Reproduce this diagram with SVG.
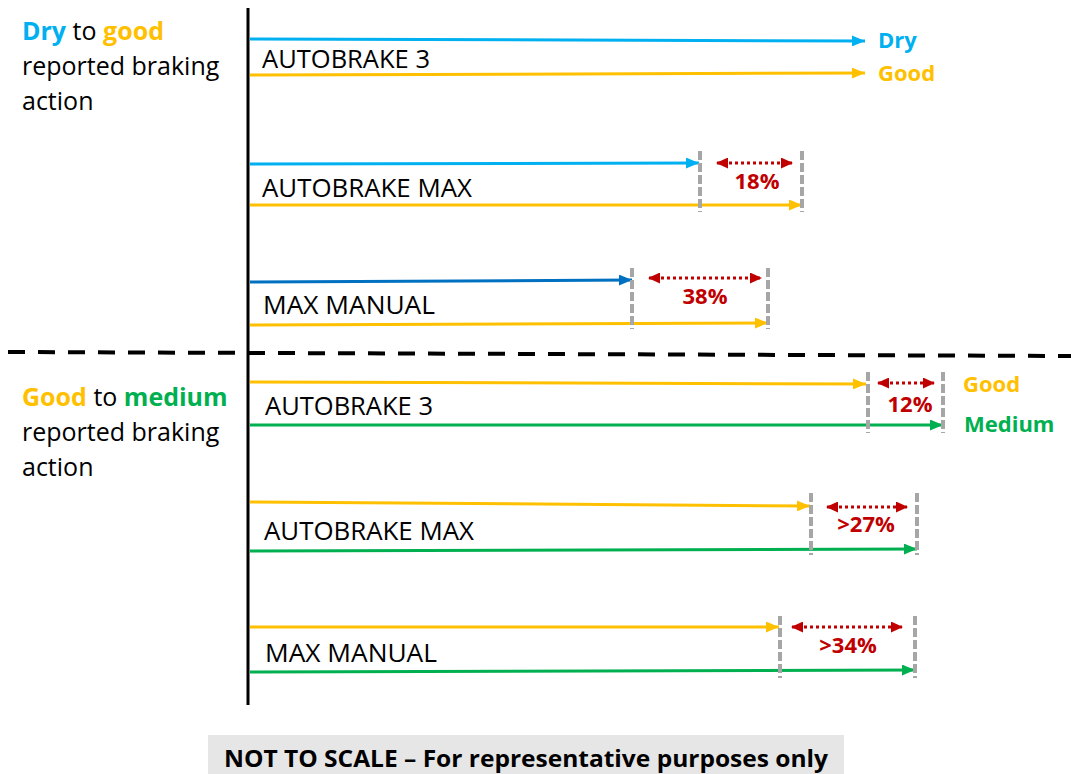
<svg xmlns="http://www.w3.org/2000/svg" width="1071" height="774" viewBox="0 0 1071 774">
<style>
.t{font-family:"Open Sans","Liberation Sans",sans-serif;font-size:25px;fill:#000}
.lab{font-family:"Open Sans","Liberation Sans",sans-serif;font-size:25px;fill:#000}
.b{font-weight:bold}
.pct{font-family:"Open Sans","Liberation Sans",sans-serif;font-size:22px;font-weight:bold;fill:#C00000;text-anchor:middle}
.end{font-family:"Open Sans","Liberation Sans",sans-serif;font-size:22px;font-weight:bold}
.ln{stroke-width:3;fill:none}
.sky{stroke:#00B0F0}
.dblue{stroke:#0070C0}
.yel{stroke:#FFC000}
.grn{stroke:#00B050}
.gd{stroke:#A6A6A6;stroke-width:4;stroke-dasharray:9 3;fill:none}
.rd{stroke:#C00000;stroke-width:3;stroke-dasharray:3 3;fill:none}
</style>
<defs>
<marker id="aSky" markerUnits="userSpaceOnUse" markerWidth="13" markerHeight="11" refX="13" refY="5.5" orient="auto"><path d="M0,0 L13,5.5 L0,11 z" fill="#00B0F0"/></marker>
<marker id="aDb" markerUnits="userSpaceOnUse" markerWidth="13" markerHeight="11" refX="13" refY="5.5" orient="auto"><path d="M0,0 L13,5.5 L0,11 z" fill="#0070C0"/></marker>
<marker id="aYel" markerUnits="userSpaceOnUse" markerWidth="13" markerHeight="11" refX="13" refY="5.5" orient="auto"><path d="M0,0 L13,5.5 L0,11 z" fill="#FFC000"/></marker>
<marker id="aGrn" markerUnits="userSpaceOnUse" markerWidth="13" markerHeight="11" refX="13" refY="5.5" orient="auto"><path d="M0,0 L13,5.5 L0,11 z" fill="#00B050"/></marker>
<marker id="aRed" markerUnits="userSpaceOnUse" markerWidth="12" markerHeight="11" refX="11" refY="5.5" orient="auto-start-reverse"><path d="M0,0 L12,5.5 L0,11 z" fill="#C00000"/></marker>
</defs>
<rect width="1071" height="774" fill="#fff"/>

<g id="axis">
<line x1="248" y1="8" x2="248" y2="705" stroke="#000" stroke-width="3"/>
<line x1="8" y1="352" x2="1071" y2="356" stroke="#000" stroke-width="4" stroke-dasharray="17 13"/>
</g>

<g id="heading-dry-good">
<text class="t" x="22" y="40"><tspan class="b" fill="#00B0F0">Dry</tspan> to <tspan class="b" fill="#FFC000">good</tspan></text>
<text class="t" x="22" y="75">reported braking</text>
<text class="t" x="22" y="110">action</text>
</g>
<g id="heading-good-medium">
<text class="t" x="22" y="406"><tspan class="b" fill="#FFC000">Good</tspan> to <tspan class="b" fill="#00B050">medium</tspan></text>
<text class="t" x="22" y="441">reported braking</text>
<text class="t" x="22" y="476">action</text>
</g>

<g id="connectors">
<line class="ln sky" x1="250" y1="39" x2="865" y2="41" marker-end="url(#aSky)"/>
<line class="ln yel" x1="250" y1="75" x2="865" y2="73" marker-end="url(#aYel)"/>
<line class="ln sky" x1="250" y1="164" x2="699" y2="163" marker-end="url(#aSky)"/>
<line class="ln yel" x1="250" y1="205" x2="802" y2="205" marker-end="url(#aYel)"/>
<line class="ln dblue" x1="250" y1="282" x2="632" y2="280" marker-end="url(#aDb)"/>
<line class="ln yel" x1="250" y1="325" x2="768" y2="323" marker-end="url(#aYel)"/>
<line class="ln yel" x1="250" y1="382" x2="866" y2="384" marker-end="url(#aYel)"/>
<line class="ln grn" x1="250" y1="425" x2="943" y2="425" marker-end="url(#aGrn)"/>
<line class="ln yel" x1="250" y1="502" x2="810" y2="506" marker-end="url(#aYel)"/>
<line class="ln grn" x1="250" y1="551" x2="917" y2="549" marker-end="url(#aGrn)"/>
<line class="ln yel" x1="250" y1="627" x2="779" y2="627" marker-end="url(#aYel)"/>
<line class="ln grn" x1="250" y1="672" x2="915" y2="670" marker-end="url(#aGrn)"/>
<line class="gd" x1="700" y1="151" x2="700" y2="212"/>
<line class="gd" x1="802" y1="151" x2="802" y2="212"/>
<line class="gd" x1="632" y1="268" x2="632" y2="329"/>
<line class="gd" x1="768" y1="268" x2="768" y2="329"/>
<line class="gd" x1="868" y1="372" x2="868" y2="433"/>
<line class="gd" x1="943" y1="372" x2="943" y2="433"/>
<line class="gd" x1="811" y1="493" x2="811" y2="555"/>
<line class="gd" x1="917" y1="493" x2="917" y2="555"/>
<line class="gd" x1="780" y1="616" x2="780" y2="678"/>
<line class="gd" x1="915" y1="616" x2="915" y2="678"/>
<line class="rd" x1="717" y1="163" x2="792" y2="163" marker-start="url(#aRed)" marker-end="url(#aRed)"/>
<line class="rd" x1="649" y1="278" x2="761" y2="278" marker-start="url(#aRed)" marker-end="url(#aRed)"/>
<line class="rd" x1="878" y1="383" x2="934" y2="383" marker-start="url(#aRed)" marker-end="url(#aRed)"/>
<line class="rd" x1="827" y1="507" x2="907" y2="507" marker-start="url(#aRed)" marker-end="url(#aRed)"/>
<line class="rd" x1="792" y1="627" x2="902" y2="627" marker-start="url(#aRed)" marker-end="url(#aRed)"/>
</g>

<g id="row-ab3-dry">
<text class="lab" x="262" y="68" textLength="168" lengthAdjust="spacingAndGlyphs">AUTOBRAKE 3</text>
<text class="end" x="878" y="48" fill="#00B0F0">Dry</text>
<text class="end" x="878" y="81" fill="#FFC000">Good</text>
</g>
<g id="row-abmax-dry">
<text class="lab" x="262" y="197" textLength="210" lengthAdjust="spacingAndGlyphs">AUTOBRAKE MAX</text>
<text class="pct" x="757" y="189">18%</text>
</g>
<g id="row-manual-dry">
<text class="lab" x="263" y="314" textLength="172" lengthAdjust="spacingAndGlyphs">MAX MANUAL</text>
<text class="pct" x="705" y="304">38%</text>
</g>
<g id="row-ab3-good">
<text class="lab" x="265" y="415" textLength="168" lengthAdjust="spacingAndGlyphs">AUTOBRAKE 3</text>
<text class="pct" x="910" y="412">12%</text>
<text class="end" x="963" y="392" fill="#FFC000">Good</text>
<text class="end" x="964" y="432" fill="#00B050">Medium</text>
</g>
<g id="row-abmax-good">
<text class="lab" x="264" y="540" textLength="210" lengthAdjust="spacingAndGlyphs">AUTOBRAKE MAX</text>
<text class="pct" x="866" y="532">&gt;27%</text>
</g>
<g id="row-manual-good">
<text class="lab" x="265" y="662" textLength="172" lengthAdjust="spacingAndGlyphs">MAX MANUAL</text>
<text class="pct" x="848" y="653">&gt;34%</text>
</g>

<g id="note">
<rect x="208" y="735" width="636" height="39" fill="#E7E6E6"/>
<text x="526" y="767" text-anchor="middle" font-family="Open Sans, Liberation Sans, sans-serif" font-size="24" font-weight="bold" textLength="604" lengthAdjust="spacingAndGlyphs">NOT TO SCALE – For representative purposes only</text>
</g>
</svg>
